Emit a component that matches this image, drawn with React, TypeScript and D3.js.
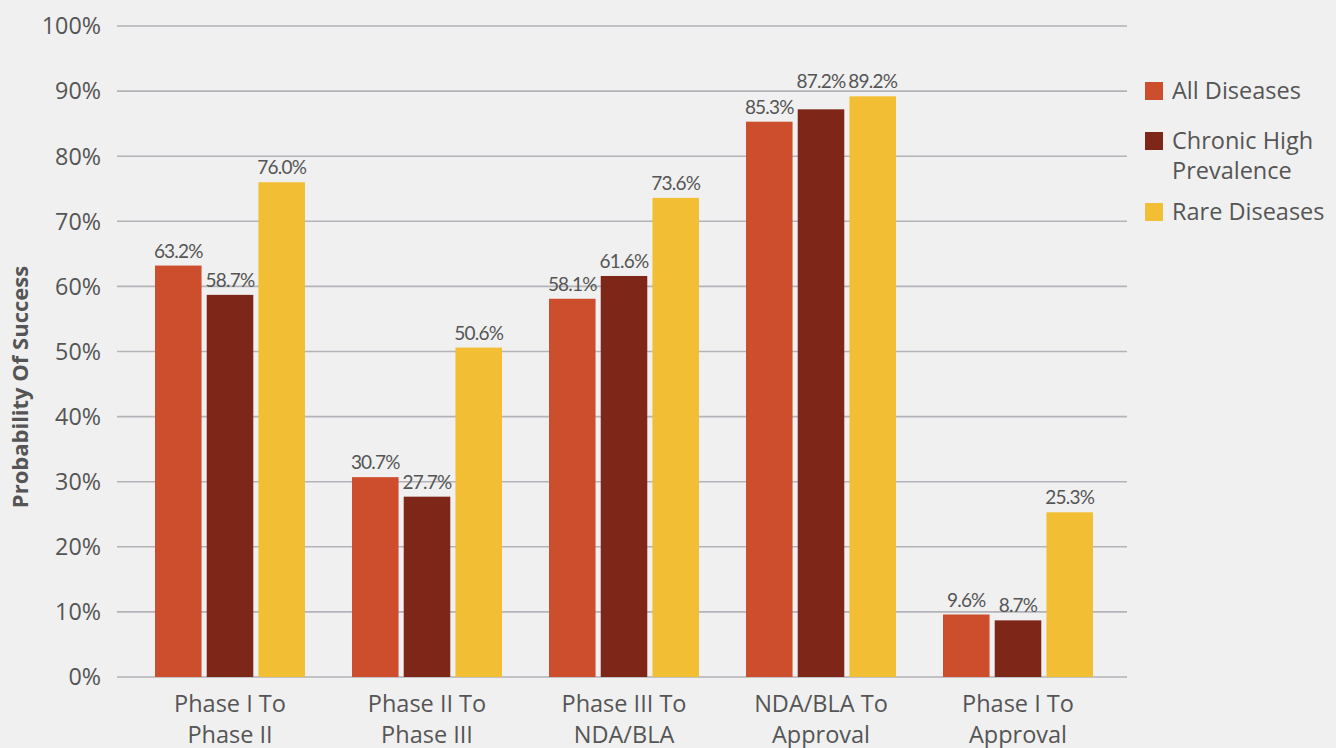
import React from "react";
import * as d3 from "d3";

const categories = [
  ["Phase I To", "Phase II"],
  ["Phase II To", "Phase III"],
  ["Phase III To", "NDA/BLA"],
  ["NDA/BLA To", "Approval"],
  ["Phase I To", "Approval"],
];
const seriesNames = ["All Diseases", "Chronic High Prevalence", "Rare Diseases"];
const legendLines = [["All Diseases"], ["Chronic High", "Prevalence"], ["Rare Diseases"]];
const allDiseases = [63.2, 30.7, 58.1, 85.3, 9.6];
const chronicHighPrevalence = [58.7, 27.7, 61.6, 87.2, 8.7];
const rareDiseases = [76.0, 50.6, 73.6, 89.2, 25.3];
const yTicks = [0, 10, 20, 30, 40, 50, 60, 70, 80, 90, 100];
const colors = ["#cc4e2c", "#7e2618", "#f2be33"];

const W = 1336;
const H = 748;
const FONT = "'Open Sans', Lato, sans-serif";
const LABEL_FONT = "Lato, sans-serif";
const TEXT = "#555555";

export default function App() {
  const series = [allDiseases, chronicHighPrevalence, rareDiseases];
  const gridLeft = 117;
  const gridRight = 1127;
  const y = d3.scaleLinear().domain([0, 100]).range([677, 26]);
  const x0 = d3
    .scaleBand<number>()
    .domain(categories.map((_, i) => i))
    .range([131.5, 1116.5])
    .paddingInner(0)
    .paddingOuter(0);
  const groupW = 150;
  const x1 = d3
    .scaleBand<number>()
    .domain(series.map((_, i) => i))
    .range([0, groupW])
    .paddingInner(0.1);

  // label baselines, lifting a label to its right neighbour's line when they would crowd
  const labelY: number[][] = categories.map((_, ci) => {
    const ys = series.map((s) => y(s[ci]) - 8);
    for (let si = ys.length - 2; si >= 0; si--) {
      const d = ys[si] - ys[si + 1];
      if (d > 0 && d < 14) ys[si] = ys[si + 1];
    }
    return ys;
  });

  return (
    <svg
      width={W}
      height={H}
      style={{ position: "absolute", left: 0, top: 0, background: "#f0f0f0" }}
      fontFamily={FONT}
    >
      <rect width={W} height={H} fill="#f0f0f0" />
      {yTicks.map((t) => (
        <g key={t}>
          <line x1={gridLeft} x2={gridRight} y1={y(t)} y2={y(t)} stroke="#b3b3b9" strokeWidth={1.6} />
          <text x={101} y={y(t)} dy="0.36em" textAnchor="end" fontSize={23.3} fill={TEXT}>
            {t}%
          </text>
        </g>
      ))}
      <text
        transform={`translate(28,387) rotate(-90)`}
        textAnchor="middle"
        fontSize={22}
        fontWeight="bold"
        fill={TEXT}
      >
        Probability Of Success
      </text>
      {categories.map((cat, ci) => {
        const gx = (x0(ci) as number) + (x0.bandwidth() - groupW) / 2;
        return (
          <g key={ci}>
            {series.map((s, si) => {
              const bx = gx + (x1(si) as number);
              return (
                <g key={si}>
                  <rect x={bx} y={y(s[ci])} width={x1.bandwidth()} height={y(0) - y(s[ci])} fill={colors[si]} />
                  <text
                    x={bx + x1.bandwidth() / 2}
                    y={labelY[ci][si]}
                    textAnchor="middle"
                    fontSize={19}
                    fontFamily={LABEL_FONT}
                    letterSpacing={-0.8}
                    fill={TEXT}
                  >
                    {s[ci].toFixed(1)}%
                  </text>
                </g>
              );
            })}
            {cat.map((line, li) => (
              <text
                key={li}
                x={gx + groupW / 2}
                y={712 + li * 30.5}
                textAnchor="middle"
                fontSize={23.5}
                fill={TEXT}
              >
                {line}
              </text>
            ))}
          </g>
        );
      })}
      {seriesNames.map((name, si) => {
        const top = [82, 132, 203][si];
        return (
          <g key={name}>
            <rect x={1145} y={top} width={18} height={18} fill={colors[si]} />
            {legendLines[si].map((l, li) => (
              <text key={li} x={1172} y={top + 9 + li * 29.5} dy="0.36em" fontSize={23.5} fill={TEXT}>
                {l}
              </text>
            ))}
          </g>
        );
      })}
    </svg>
  );
}
